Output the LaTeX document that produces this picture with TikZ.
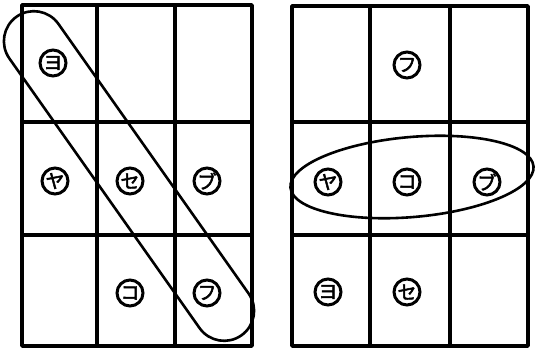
\documentclass[tikz,border=0pt]{standalone}
\usepackage{fontspec}
\newfontfamily\jpfont{Noto Sans CJK JP}[FakeBold=2.5]
\usetikzlibrary{shapes.misc}
\begin{document}
\begin{tikzpicture}[x=1pt,y=-1pt,
  gridline/.style={line width=3.6pt, line cap=round, line join=round},
  loopline/.style={line width=2.6pt},
  kana/.style={circle, draw, line width=3pt, minimum size=26pt, inner sep=0pt,
    font=\jpfont\fontsize{19}{19}\selectfont}]
\useasboundingbox (0,0) rectangle (536,349);
% left grid
\draw[gridline] (22,5) rectangle (252,346);
\draw[gridline] (97,5) -- (97,346) (175,5) -- (175,346)
  (22,122) -- (252,122) (22,235) -- (252,235);
% right grid
\draw[gridline] (292,6) rectangle (528,346);
\draw[gridline] (370,6) -- (370,346) (450,6) -- (450,346)
  (292,122) -- (528,122) (292,235) -- (528,235);
% labels left
\node[kana] (lyo) at (53,63) {ヨ};
\node[kana] (lya) at (55,181) {ヤ};
\node[kana] (lse) at (130,181) {セ};
\node[kana] (lbu) at (207,181) {ブ};
\node[kana] (lko) at (130,293) {コ};
\node[kana] (lfu) at (207,293) {フ};
% labels right
\node[kana] (rfu) at (407,65) {フ};
\node[kana] (rya) at (328,182) {ヤ};
\node[kana] (rko) at (407,182) {コ};
\node[kana] (rbu) at (487,182) {ブ};
\node[kana] (ryo) at (328,292) {ヨ};
\node[kana] (rse) at (407,292) {セ};
% loops
\node[draw, loopline, rounded rectangle, minimum width=390pt, minimum height=60pt,
  inner sep=0pt, rotate=-54.8] (diag) at (129,176) {};
\draw[loopline, rotate around={5:(412,177)}] (412,177) ellipse [x radius=122pt, y radius=40pt];
\end{tikzpicture}
\end{document}
